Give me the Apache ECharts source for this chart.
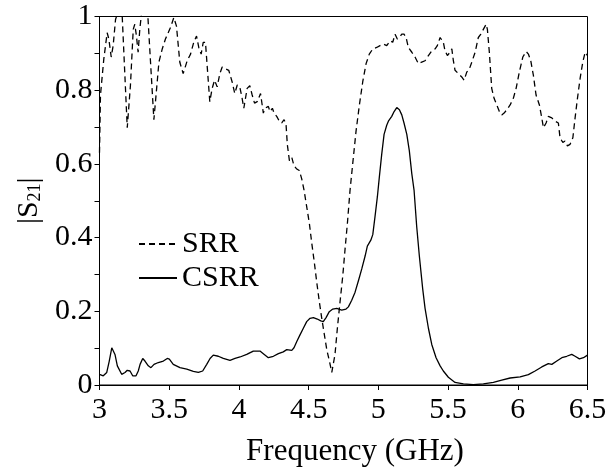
<!DOCTYPE html>
<html>
<head>
<meta charset="utf-8">
<script src="https://cdn.jsdelivr.net/npm/echarts@6/dist/echarts.min.js"></script>
<style>
html,body{margin:0;padding:0;background:#fff;}
#chart{width:610px;height:472px;}
</style>
</head>
<body>
<div id="chart"></div>
<script>
var seriesNames = ['SRR', 'CSRR'];
var xTicks = [3, 3.5, 4, 4.5, 5, 5.5, 6, 6.5];
var yTicks = [0, 0.2, 0.4, 0.6, 0.8, 1];

var srrFreq = [3.000,3.007,3.031,3.055,3.067,3.084,3.098,3.115,3.122,3.140,3.163,3.199,3.222,3.242,3.253,3.265,3.277,3.289,3.299,3.323,3.347,3.390,3.414,3.426,3.450,3.473,3.509,3.533,3.552,3.576,3.600,3.629,3.653,3.676,3.696,3.712,3.729,3.744,3.760,3.772,3.791,3.808,3.825,3.844,3.863,3.880,3.904,3.927,3.951,3.970,3.988,4.006,4.023,4.035,4.059,4.078,4.095,4.112,4.131,4.155,4.175,4.187,4.211,4.223,4.240,4.252,4.271,4.290,4.307,4.324,4.338,4.347,4.362,4.379,4.395,4.415,4.433,4.450,4.467,4.486,4.505,4.522,4.541,4.558,4.577,4.594,4.613,4.630,4.649,4.666,4.677,4.689,4.706,4.725,4.745,4.761,4.778,4.797,4.816,4.840,4.864,4.888,4.912,4.935,4.960,4.988,5.012,5.036,5.060,5.084,5.103,5.120,5.136,5.151,5.168,5.184,5.199,5.215,5.240,5.263,5.287,5.311,5.335,5.359,5.383,5.407,5.423,5.443,5.466,5.478,5.495,5.514,5.527,5.538,5.550,5.574,5.598,5.615,5.634,5.653,5.670,5.694,5.717,5.735,5.753,5.773,5.782,5.796,5.813,5.830,5.849,5.868,5.885,5.902,5.921,5.945,5.968,5.988,6.011,6.036,6.060,6.076,6.093,6.112,6.131,6.155,6.172,6.184,6.203,6.219,6.244,6.268,6.291,6.303,6.323,6.339,6.356,6.375,6.395,6.411,6.428,6.447,6.466,6.483,6.500];
var srrVal = [0.630,0.787,0.885,0.956,0.939,0.890,0.921,0.992,1.000,1.100,1.000,0.698,0.814,0.965,0.979,0.947,0.903,0.965,1.000,1.120,1.000,0.720,0.823,0.876,0.912,0.939,0.970,0.997,0.974,0.876,0.845,0.880,0.898,0.930,0.947,0.916,0.898,0.930,0.930,0.867,0.769,0.805,0.827,0.809,0.845,0.863,0.858,0.854,0.823,0.791,0.814,0.809,0.778,0.751,0.805,0.812,0.787,0.765,0.769,0.791,0.738,0.751,0.756,0.742,0.751,0.738,0.729,0.716,0.711,0.720,0.707,0.653,0.609,0.618,0.595,0.586,0.582,0.560,0.529,0.484,0.439,0.386,0.332,0.279,0.225,0.181,0.136,0.096,0.065,0.034,0.038,0.083,0.154,0.225,0.297,0.368,0.439,0.529,0.600,0.689,0.760,0.823,0.872,0.898,0.912,0.916,0.921,0.925,0.921,0.934,0.930,0.952,0.939,0.943,0.952,0.952,0.943,0.916,0.903,0.890,0.872,0.876,0.880,0.894,0.907,0.912,0.921,0.943,0.930,0.907,0.894,0.903,0.912,0.880,0.854,0.845,0.836,0.827,0.849,0.858,0.876,0.903,0.943,0.952,0.965,0.979,0.965,0.903,0.805,0.778,0.760,0.742,0.733,0.738,0.747,0.760,0.778,0.805,0.849,0.890,0.905,0.898,0.880,0.840,0.787,0.760,0.725,0.698,0.711,0.729,0.725,0.716,0.711,0.671,0.658,0.662,0.649,0.653,0.671,0.725,0.778,0.832,0.876,0.903,0.894];

var csrrFreq = [3.000,3.027,3.052,3.070,3.088,3.099,3.111,3.128,3.159,3.183,3.199,3.219,3.238,3.262,3.278,3.291,3.310,3.326,3.350,3.369,3.391,3.422,3.458,3.486,3.501,3.529,3.577,3.626,3.673,3.709,3.740,3.769,3.793,3.816,3.852,3.888,3.936,3.972,4.008,4.056,4.103,4.151,4.175,4.211,4.247,4.283,4.318,4.343,4.379,4.395,4.415,4.438,4.462,4.486,4.510,4.534,4.562,4.587,4.605,4.625,4.648,4.673,4.702,4.737,4.768,4.785,4.809,4.833,4.857,4.881,4.905,4.921,4.946,4.960,4.976,4.993,5.007,5.024,5.041,5.060,5.072,5.084,5.096,5.113,5.132,5.151,5.168,5.184,5.204,5.222,5.240,5.256,5.275,5.294,5.318,5.335,5.359,5.383,5.414,5.443,5.466,5.502,5.550,5.610,5.681,5.753,5.825,5.885,5.945,6.017,6.076,6.124,6.172,6.219,6.244,6.280,6.316,6.351,6.387,6.411,6.442,6.471,6.500];
var csrrVal = [0.029,0.025,0.034,0.065,0.101,0.105,0.083,0.052,0.029,0.034,0.040,0.038,0.025,0.025,0.038,0.056,0.072,0.065,0.052,0.047,0.056,0.061,0.065,0.072,0.070,0.056,0.047,0.043,0.037,0.034,0.038,0.056,0.072,0.081,0.078,0.072,0.067,0.072,0.076,0.083,0.092,0.092,0.085,0.074,0.078,0.085,0.090,0.096,0.094,0.101,0.118,0.136,0.154,0.172,0.181,0.183,0.179,0.174,0.172,0.183,0.199,0.206,0.208,0.203,0.206,0.212,0.230,0.252,0.283,0.315,0.350,0.377,0.393,0.408,0.457,0.511,0.564,0.626,0.680,0.705,0.716,0.711,0.729,0.742,0.753,0.747,0.733,0.711,0.680,0.636,0.573,0.529,0.430,0.350,0.261,0.208,0.154,0.110,0.074,0.052,0.038,0.021,0.007,0.003,0.001,0.003,0.007,0.013,0.019,0.022,0.028,0.038,0.049,0.058,0.056,0.065,0.074,0.078,0.083,0.078,0.071,0.074,0.081];

function pairs(xs, ys) { return xs.map(function (x, i) { return [x, ys[i]]; }); }

var FONT = '"Liberation Serif", "Times New Roman", serif';
var chart = echarts.init(document.getElementById('chart'));
chart.setOption({
  animation: false,
  backgroundColor: '#fff',
  textStyle: { fontFamily: FONT, color: '#000' },
  grid: { left: 99.5, right: 22.5, top: 16.5, bottom: 81, show: true, borderColor: '#000', borderWidth: 1, backgroundColor: 'transparent' },
  legend: {
    orient: 'vertical', left: 138, top: 229, padding: 0,
    itemWidth: 38, itemHeight: 14, itemGap: 4,
    data: seriesNames,
    itemStyle: { color: 'transparent', borderWidth: 0, opacity: 0 },
    textStyle: { fontFamily: FONT, fontSize: 30, color: '#000', lineHeight: 30 }
  },
  xAxis: {
    type: 'value', min: xTicks[0], max: xTicks[xTicks.length - 1], interval: 0.5,
    name: 'Frequency (GHz)', nameLocation: 'middle', nameGap: 51,
    nameTextStyle: { fontFamily: FONT, fontSize: 31, color: '#000', padding: [0, 0, 0, 23] },
    axisLine: { lineStyle: { color: '#000', width: 1 } },
    axisTick: { show: true, inside: false, length: 5, lineStyle: { color: '#000' } },
    axisLabel: { fontFamily: FONT, fontSize: 30, color: '#000', margin: 10, formatter: function (v) { return String(v); } },
    splitLine: { show: false }
  },
  yAxis: {
    type: 'value', min: yTicks[0], max: yTicks[yTicks.length - 1], interval: 0.2,
    name: '|S{sub|21}|', nameLocation: 'middle', nameGap: 55, nameRotate: 90,
    nameTextStyle: { fontFamily: FONT, fontSize: 30, color: '#000', lineHeight: 30,
      rich: { sub: { fontFamily: FONT, fontSize: 18, lineHeight: 10, verticalAlign: 'bottom', color: '#000' } } },
    axisLine: { show: true, lineStyle: { color: '#000', width: 1 } },
    axisTick: { show: true, inside: false, length: 5, lineStyle: { color: '#000' } },
    minorTick: { show: true, splitNumber: 2, length: 5, lineStyle: { color: '#000' } },
    axisLabel: { fontFamily: FONT, fontSize: 30, color: '#000', margin: 7, formatter: function (v) { return String(Math.round(v * 10) / 10); } },
    splitLine: { show: false }
  },
  series: [
    { name: seriesNames[0], type: 'line', data: pairs(srrFreq, srrVal), symbol: 'none', clip: true,
      lineStyle: { color: '#000', width: 1.3, type: [6, 4] }, itemStyle: { color: '#000' } },
    { name: seriesNames[1], type: 'line', data: pairs(csrrFreq, csrrVal), symbol: 'none', clip: true,
      lineStyle: { color: '#000', width: 1.3, type: 'solid' }, itemStyle: { color: '#000' } }
  ]
});
</script>
</body>
</html>
